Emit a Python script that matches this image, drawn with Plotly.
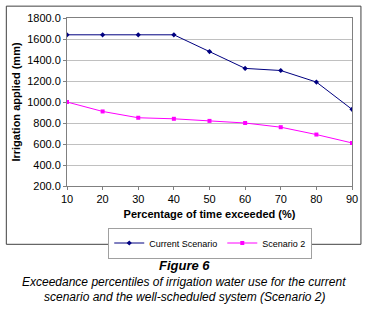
import plotly.graph_objects as go

percent = [10, 20, 30, 40, 50, 60, 70, 80, 90]
current = [1640, 1640, 1640, 1640, 1480, 1320, 1300, 1190, 930]
scenario2 = [1000, 910, 850, 840, 820, 800, 760, 690, 610]

W, H = 370, 309
PL, PR, PT, PB = 67, 353.5, 16, 186  # plot area pixels

def px(x):
    return (x - PL) / (PR - PL)

def py(y):
    return (PB - y) / (PB - PT)

FONT = "Liberation Sans, Arial, sans-serif"

fig = go.Figure()
fig.add_trace(go.Scatter(x=percent, y=current, name="Current Scenario", mode="lines+markers",
                         line=dict(color="#000080", width=1),
                         marker=dict(symbol="diamond", size=4, color="#000080")))
fig.add_trace(go.Scatter(x=percent, y=scenario2, name="Scenario 2", mode="lines+markers",
                         line=dict(color="#FF00FF", width=1),
                         marker=dict(symbol="square", size=4, color="#FF00FF")))

fig.update_layout(
    width=W, height=H, autosize=False,
    margin=dict(l=PL, r=W - PR, t=PT, b=H - PB, pad=0),
    paper_bgcolor="white", plot_bgcolor="white",
    font=dict(family=FONT, size=11, color="black"),
    showlegend=True,
    legend=dict(orientation="h", x=px(211), xanchor="center", y=py(228), yanchor="top",
                bordercolor="#A0A0A0", borderwidth=1, bgcolor="white",
                font=dict(size=9), itemwidth=30, tracegroupgap=0),
    xaxis=dict(range=[10, 90], dtick=10, tick0=10, showgrid=False, showline=True,
               linecolor="#808080", mirror=True, ticks="outside", ticklen=3,
               tickcolor="#808080", zeroline=False,
               title=dict(text="<b>Percentage of time exceeded (%)</b>", standoff=6,
                          font=dict(size=11))),
    yaxis=dict(range=[200, 1800], dtick=200, tickformat=".1f", showgrid=True,
               gridcolor="#C0C0C0", showline=True, linecolor="#808080", mirror=True,
               ticks="outside", ticklen=3, tickcolor="#808080", zeroline=False,
               title=dict(text="<b>Irrigation applied (mm)</b>", standoff=4,
                          font=dict(size=11))),
)

# outer chart border
fig.add_shape(type="rect", xref="paper", yref="paper",
              x0=px(6), x1=px(362.5), y0=py(245), y1=py(4),
              line=dict(color="#404040", width=1))

caption = [
    ("<b><i>Figure 6</i></b>", 266, 13),
    ("<i>Exceedance percentiles of irrigation water use for the current</i>", 283, 12),
    ("<i>scenario and the well-scheduled system (Scenario 2)</i>", 298, 12),
]
for text, yc, size in caption:
    fig.add_annotation(text=text, xref="paper", yref="paper", x=px(185), y=py(yc),
                       xanchor="center", yanchor="middle", showarrow=False,
                       font=dict(size=size, family=FONT, color="black"))

fig.write_html("out.html", config={"displayModeBar": False},
               post_script="document.body.style.margin='0';document.body.style.overflow='hidden';")
